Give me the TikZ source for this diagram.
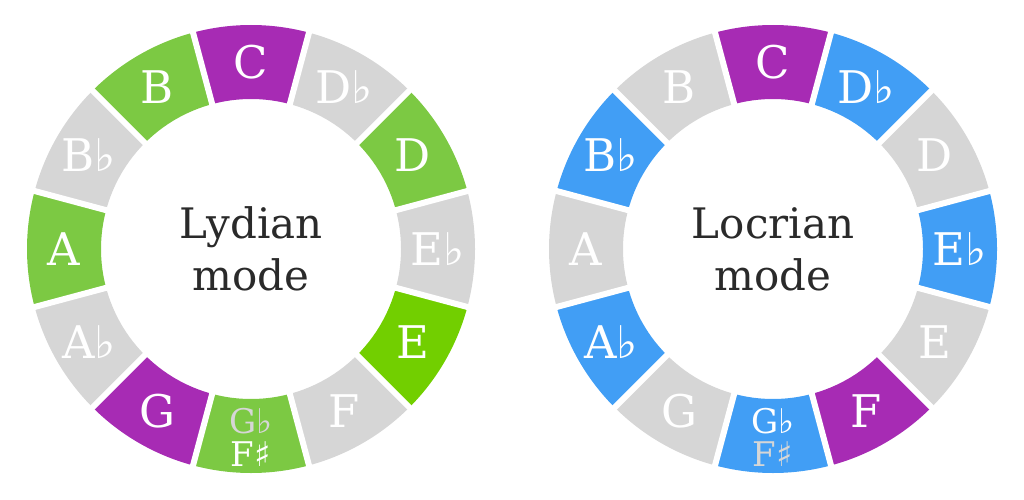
\documentclass[tikz,border=0pt]{standalone}
\usepackage{fontspec}
\setmainfont{DejaVu Serif}
\newfontfamily\musicfont{DejaVu Sans}
\newcommand\flt{{\musicfont ♭}}
\newcommand\shp{{\musicfont ♯}}
\definecolor{modepurple}{HTML}{A72BB4}
\definecolor{modegray}{HTML}{D6D6D6}
\definecolor{lydgreen}{HTML}{7CC943}
\definecolor{lydgreenE}{HTML}{72CF00}
\definecolor{locblue}{HTML}{419EF5}
\definecolor{titlegray}{HTML}{2A2A2A}
\begin{document}
\begin{tikzpicture}[
    notelbl/.style={text=white, font=\fontsize{45}{45}\selectfont, inner sep=0pt},
    duallbl/.style={font=\fontsize{34}{33}\selectfont, inner sep=0pt, align=center},
    modelbl/.style={text=titlegray, font=\fontsize{42}{52}\selectfont, align=center},
    gapline/.style={white, line width=6pt}
  ]
    \useasboundingbox (0,0) rectangle (1024pt,499pt);

    % Anillo del modo lidio
    \begin{scope}[shift={(251pt,250pt)}]
        \foreach \ang/\col/\nm in {90/modepurple/C, 60/modegray/D\flt, 30/lydgreen/D,
            0/modegray/E\flt, -30/lydgreenE/E, -60/modegray/F, -90/lydgreen/{},
            -120/modepurple/G, -150/modegray/A\flt, 180/lydgreen/A,
            150/modegray/B\flt, 120/lydgreen/B}{
            \fill[\col] (\ang-15:150pt) arc[start angle=\ang-15, end angle=\ang+15, radius=150pt]
                -- (\ang+15:224pt) arc[start angle=\ang+15, end angle=\ang-15, radius=224pt] -- cycle;
            \node[notelbl] (lyd\ang) at (\ang:187pt) {\nm};
        }
        \foreach \ang in {15,45,...,345}
            \draw[gapline] (\ang:140pt) -- (\ang:235pt);
        \node[duallbl] (lydGF) at (-90:188pt) {\textcolor{modegray}{G\flt}\\\textcolor{white}{F\shp}};
        \node[modelbl] (lydname) at (0,0) {Lydian\\mode};
    \end{scope}

    % Anillo del modo locrio
    \begin{scope}[shift={(773pt,250pt)}]
        \foreach \ang/\col/\nm in {90/modepurple/C, 60/locblue/D\flt, 30/modegray/D,
            0/locblue/E\flt, -30/modegray/E, -60/modepurple/F, -90/locblue/{},
            -120/modegray/G, -150/locblue/A\flt, 180/modegray/A,
            150/locblue/B\flt, 120/modegray/B}{
            \fill[\col] (\ang-15:150pt) arc[start angle=\ang-15, end angle=\ang+15, radius=150pt]
                -- (\ang+15:224pt) arc[start angle=\ang+15, end angle=\ang-15, radius=224pt] -- cycle;
            \node[notelbl] (loc\ang) at (\ang:187pt) {\nm};
        }
        \foreach \ang in {15,45,...,345}
            \draw[gapline] (\ang:140pt) -- (\ang:235pt);
        \node[duallbl] (locGF) at (-90:188pt) {\textcolor{white}{G\flt}\\\textcolor{modegray}{F\shp}};
        \node[modelbl] (locname) at (0,0) {Locrian\\mode};
    \end{scope}
\end{tikzpicture}
\end{document}
